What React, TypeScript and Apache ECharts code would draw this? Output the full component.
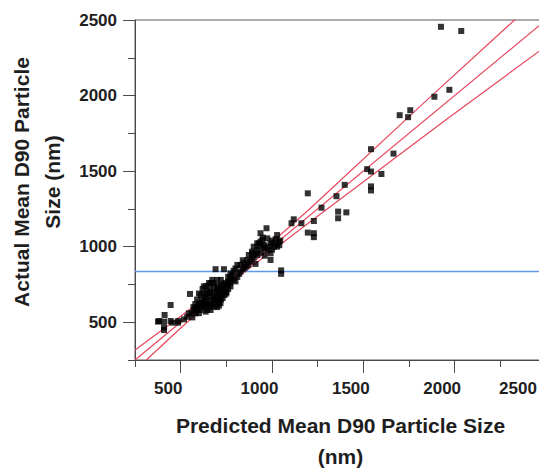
import React, { useEffect, useRef } from "react";
import * as echarts from "echarts";

// Actual vs predicted D90 particle size (nm): [predicted, actual]
const points: [number, number][] = [
  [382, 508], [409, 504], [409, 448], [409, 466], [445, 614], [445, 508], [487, 508], [518, 519],
  [545, 559], [564, 532], [376, 504], [412, 548], [454, 497], [485, 497], [536, 536], [582, 559],
  [609, 581], [627, 636], [600, 626], [551, 687], [572, 576], [591, 603], [618, 648], [637, 671],
  [645, 703], [655, 759], [673, 780], [691, 851], [737, 851], [682, 737], [700, 692], [718, 626],
  [728, 748], [664, 581], [637, 570], [627, 737], [664, 692], [691, 659], [682, 603], [645, 581],
  [728, 714], [755, 737], [773, 801], [700, 780], [664, 759], [773, 823], [773, 790], [773, 737],
  [782, 812], [620, 600], [650, 620], [660, 640], [670, 610], [680, 650], [690, 620], [700, 660],
  [710, 640], [720, 680], [730, 660], [740, 700], [750, 690], [640, 660], [650, 690], [660, 720],
  [680, 700], [700, 720], [710, 700], [720, 740], [740, 760], [760, 770], [600, 560], [590, 580],
  [630, 610], [560, 560], [580, 590], [610, 620], [700, 600], [740, 680], [760, 720], [750, 750],
  [790, 780], [800, 770], [810, 800], [600, 690], [620, 720], [640, 740], [590, 650], [610, 680],
  [660, 600], [690, 640], [720, 650], [750, 700], [770, 760], [700, 740], [680, 760], [720, 780],
  [580, 620], [640, 620], [570, 600], [630, 690], [670, 670], [710, 610], [740, 730], [760, 800],
  [800, 856], [828, 835], [810, 879], [846, 890], [864, 912], [873, 945], [891, 956], [900, 1000],
  [919, 1022], [937, 1033], [955, 1011], [992, 1022], [992, 912], [1028, 1000], [992, 956], [974, 978],
  [919, 945], [1028, 1077], [1037, 1033], [937, 1089], [928, 1022], [955, 1000], [910, 956], [1010, 1000],
  [974, 1055], [947, 1044], [891, 967], [828, 879], [970, 1122], [910, 886], [1050, 843], [1050, 820],
  [850, 860], [880, 900], [900, 930], [920, 980], [940, 960], [960, 990], [980, 1000], [1000, 1040],
  [1015, 1020], [1040, 1010], [860, 870], [890, 920], [930, 1000], [950, 1060], [1000, 980], [1020, 1050],
  [1045, 1040], [960, 940], [840, 850], [870, 880], [820, 820], [790, 840], [840, 910],
  [1107, 1155], [1119, 1181], [1161, 1155], [1229, 1170], [1196, 1353], [1196, 1093], [1229, 1089],
  [1229, 1063], [1271, 1258], [1353, 1334], [1362, 1232], [1362, 1188], [1407, 1227], [1398, 1409],
  [1542, 1645], [1521, 1513], [1542, 1497], [1599, 1481], [1542, 1399], [1542, 1372], [1665, 1616],
  [1699, 1870], [1745, 1857], [1757, 1903], [1889, 1992], [1971, 2038], [1925, 2455], [2036, 2427],
];

// Fit line, confidence curves and mean of the actual values
const fitLine: [number, number][] = [[250, 250], [2500, 2500]];
const upperCurve: [number, number][] = [
  [250, 316], [500, 539], [830, 848], [1200, 1243], [1812, 1930], [2328, 2500], [2500, 2690],
];
const lowerCurve: [number, number][] = [
  [312, 250], [500, 462], [830, 815], [1200, 1157], [1967, 1853], [2463, 2294], [2500, 2327],
];
const meanLine: [number, number][] = [[250, 835], [2500, 835]];

const majorTicks = [500, 1000, 1500, 2000, 2500];

export default function App() {
  const ref = useRef<HTMLDivElement>(null);
  useEffect(() => {
    if (!ref.current) return;
    const chart = echarts.init(ref.current, undefined, { renderer: "svg" });
    const font = "Liberation Sans";
    const axisColor = "#4a4a4a";
    const red = "#e8465f";
    const textColor = "#1e1e1e";
    const lineSeries = (data: [number, number][], color: string, width: number) => ({
      type: "line",
      data,
      symbol: "none",
      clip: true,
      silent: true,
      lineStyle: { color, width },
      itemStyle: { color },
      z: 2,
    });
    chart.setOption({
      animation: false,
      grid: {
        left: 135,
        top: 20,
        right: -7,
        bottom: 108,
        show: true,
        borderColor: "#5a5a5a",
        borderWidth: 1,
        outerBoundsMode: "none",
        containLabel: false,
      },
      xAxis: [
        {
          type: "value",
          min: 250,
          max: 2500,
          interval: 250,
          name: "Predicted Mean D90 Particle Size\n(nm)",
          nameLocation: "middle",
          nameGap: 50,
          nameTextStyle: {
            fontFamily: font,
            fontWeight: "bold",
            fontSize: 21,
            lineHeight: 31,
            color: textColor,
          },
          axisLine: { show: true, lineStyle: { color: axisColor, width: 1 } },
          axisTick: {
            show: true,
            customValues: majorTicks,
            length: 13,
            lineStyle: { color: axisColor },
          },
          axisLabel: {
            customValues: majorTicks,
            margin: 20,
            fontFamily: font,
            fontWeight: "bold",
            fontSize: 17,
            color: textColor,
            formatter: (v: number) => (v === 2500 ? "{e|" + v + "}" : "{n|" + v + "}"),
            rich: {
              n: { fontFamily: font, fontWeight: "bold", fontSize: 17, color: textColor, padding: [0, 25, 0, 0] },
              e: { fontFamily: font, fontWeight: "bold", fontSize: 17, color: textColor, padding: [0, 56, 0, 0] },
            },
          },
          splitLine: { show: false },
        },
        {
          type: "value",
          min: 250,
          max: 2500,
          interval: 250,
          position: "bottom",
          axisLine: { show: false },
          axisTick: { show: true, length: 7, lineStyle: { color: axisColor } },
          axisLabel: { show: false },
          splitLine: { show: false },
        },
      ],
      yAxis: [
        {
          type: "value",
          min: 250,
          max: 2500,
          interval: 250,
          name: "Actual Mean D90 Particle\nSize (nm)",
          nameLocation: "middle",
          nameRotate: 90,
          nameGap: 64,
          nameTextStyle: {
            fontFamily: font,
            fontWeight: "bold",
            fontSize: 21,
            lineHeight: 31,
            color: textColor,
            padding: [0, 0, 0, 16],
          },
          axisLine: { show: true, lineStyle: { color: axisColor, width: 1 } },
          axisTick: {
            show: true,
            customValues: majorTicks,
            length: 12,
            lineStyle: { color: axisColor },
          },
          axisLabel: {
            customValues: majorTicks,
            margin: 18,
            fontFamily: font,
            fontWeight: "bold",
            fontSize: 17,
            color: textColor,
            formatter: (v: number) => String(v),
          },
          splitLine: { show: false },
        },
        {
          type: "value",
          min: 250,
          max: 2500,
          interval: 250,
          position: "left",
          axisLine: { show: false },
          axisTick: { show: true, length: 7, lineStyle: { color: axisColor } },
          axisLabel: { show: false },
          splitLine: { show: false },
        },
      ],
      series: [
        lineSeries(meanLine, "#5f98ec", 1.5),
        lineSeries(lowerCurve, red, 1.2),
        lineSeries(fitLine, red, 1.2),
        lineSeries(upperCurve, red, 1.2),
        {
          type: "scatter",
          data: points,
          symbol: "rect",
          symbolSize: 6,
          itemStyle: { color: "#000" },
          silent: true,
          z: 3,
        },
      ],
    });
    return () => chart.dispose();
  }, []);
  return (
    <div
      ref={ref}
      style={{ position: "absolute", left: 0, top: 0, width: 539, height: 468 }}
    />
  );
}
